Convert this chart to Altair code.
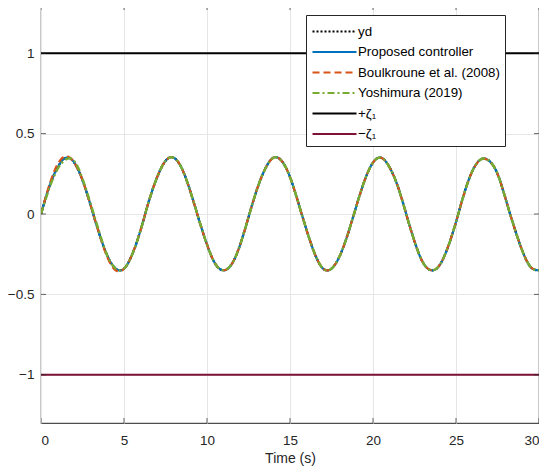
import altair as alt
import pandas as pd

# time samples (s)
t = [i * 0.5 for i in range(61)]

# values (every 0.5 s)
yd = [0.00, 0.17, 0.29, 0.35, 0.32, 0.21, 0.05, -0.12, -0.26, -0.34,
      -0.34, -0.25, -0.10, 0.08, 0.23, 0.33, 0.35, 0.28, 0.14, -0.03,
      -0.19, -0.31, -0.35, -0.31, -0.19, -0.02, 0.15, 0.28, 0.35, 0.33,
      0.23, 0.07, -0.10, -0.25, -0.34, -0.34, -0.26, -0.12, 0.05, 0.21,
      0.32, 0.35, 0.29, 0.17, 0.00, -0.17, -0.30, -0.35, -0.32, -0.21,
      -0.05, 0.13, 0.27, 0.34, 0.33, 0.25, 0.09, -0.08, -0.23, -0.33, -0.35]
proposed = list(yd)
boulkroune = [0.00, 0.18, 0.31, 0.36, 0.32, 0.21, 0.05, -0.12, -0.27, -0.35] + yd[10:]
yoshimura = [0.00, 0.16, 0.28, 0.34, 0.33, 0.22, 0.06, -0.11, -0.26, -0.34] + yd[10:]
zeta_t = [0, 30]
zeta_pos = [1, 1]
zeta_neg = [-1, -1]

x_ticks = [0, 5, 10, 15, 20, 25, 30]
y_ticks = [-1, -0.5, 0, 0.5, 1]
x_dom = [0, 30]
y_dom = [-1.3, 1.3]

names = ["yd", "Proposed controller", "Boulkroune et al. (2008)",
         "Yoshimura (2019)", "+\u03b6\u2081", "\u2212\u03b6\u2081"]
colors = ["#000000", "#0072BD", "#D95319", "#77AC30", "#000000", "#7E1236"]
dashes = [[2, 2], [1, 0], [7, 4], [7, 3, 2, 3], [1, 0], [1, 0]]
widths = [2.2, 2.2, 2.2, 2.4, 2.2, 2.2]

rows = []
series_data = [(t, yd), (t, proposed), (t, boulkroune), (t, yoshimura),
               (zeta_t, zeta_pos), (zeta_t, zeta_neg)]
for name, (tt, yy) in zip(names, series_data):
    for a, b in zip(tt, yy):
        rows.append({"t": a, "y": b, "series": name})
df = pd.DataFrame(rows)

xt_df = pd.DataFrame([{"t": v, "y": e} for v in x_ticks for e in y_dom])
yt_df = pd.DataFrame([{"t": e, "y": v} for v in y_ticks for e in x_dom])

font = "Liberation Sans"
legend = alt.Legend(
    title=None, orient="none", legendX=265, legendY=10,
    fillColor="white", strokeColor="#262626", padding=5,
    labelFont=font, labelFontSize=13.3, labelColor="#000000",
    symbolType="M-1,0H3.4", symbolSize=400, symbolStrokeWidth=2.2,
    rowPadding=2.5, labelLimit=300, offset=0, labelOffset=24,
)

xs = alt.Scale(domain=x_dom, nice=False)
ys = alt.Scale(domain=y_dom, nice=False)
x_enc = alt.X("t:Q", scale=xs, axis=alt.Axis(values=x_ticks, title="Time (s)"))
y_enc = alt.Y("y:Q", scale=ys, axis=alt.Axis(values=y_ticks, title=None, format="~g"))

layers = []
for i, name in enumerate(names):
    base = alt.Chart(df).transform_filter(alt.datum.series == name).mark_line(
        interpolate="natural", strokeWidth=widths[i], clip=True
    ).encode(
        x=x_enc, y=y_enc,
        color=alt.Color("series:N", scale=alt.Scale(domain=names, range=colors),
                        legend=legend),
        strokeDash=alt.StrokeDash("series:N", scale=alt.Scale(domain=names, range=dashes),
                                  legend=legend),
    )
    layers.append(base)

# inward tick marks on all four sides (half of each tick is clipped)
xticks_layer = alt.Chart(xt_df).mark_tick(
    orient="vertical", size=10, thickness=1, color="#262626", clip=True
).encode(x=x_enc, y=y_enc)
yticks_layer = alt.Chart(yt_df).mark_tick(
    orient="horizontal", size=10, thickness=1, color="#262626", clip=True
).encode(x=x_enc, y=y_enc)
layers += [xticks_layer, yticks_layer]

chart = alt.layer(*layers).properties(
    width=498, height=418,
    padding={"left": -1, "top": -3, "right": 0, "bottom": 0},
).configure_view(
    stroke="#4d4d4d", strokeWidth=1.2
).configure_axis(
    grid=True, gridColor="#e6e6e6", gridWidth=1, domain=False,
    ticks=False, labelFont=font, labelFontSize=13.5, labelColor="#262626",
    titleFont=font, titleFontSize=14, titleFontWeight="normal", titleColor="#262626",
).configure_axisX(
    labelPadding=10, titlePadding=5,
).configure_axisY(
    labelPadding=7,
)

chart.save("out.html", embed_options={"renderer": "svg", "actions": False})
